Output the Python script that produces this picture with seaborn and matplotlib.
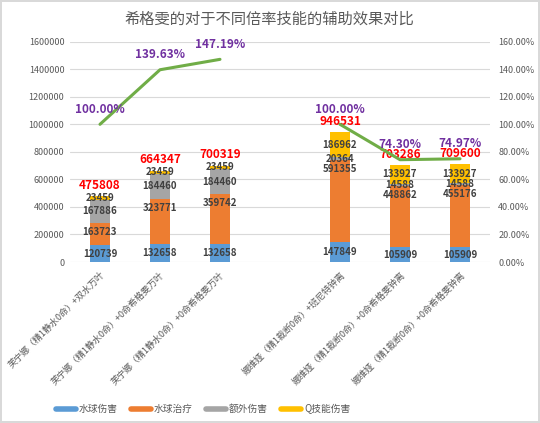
#!/usr/bin/env python3
"""希格雯辅助效果对比 - 堆叠柱状图 + 折线"""

import numpy as np
import pandas as pd
import matplotlib
matplotlib.use("Agg")
import matplotlib.pyplot as plt
from matplotlib.lines import Line2D
import seaborn as sns

# データ
categories = [
    "芙宁娜（精1静水0命）+双水万叶",
    "芙宁娜（精1静水0命）+0命希格雯万叶",
    "芙宁娜（精1静水0命）+0命希格雯万叶",
    "娜维娅（精1裁断0命）+班尼特钟离",
    "娜维娅（精1裁断0命）+0命希格雯钟离",
    "娜维娅（精1裁断0命）+0命希格雯钟离",
]
positions = [0, 1, 2, 4, 5, 6]  # 3 は空白
groups = [0, 0, 0, 1, 1, 1]

water_dmg = [120739, 132658, 132658, 147849, 105909, 105909]
water_heal = [163723, 323771, 359742, 591355, 448862, 455176]
extra_dmg = [167886, 184460, 184460, 20364, 14588, 14588]
q_dmg = [23459, 23459, 23459, 186962, 133927, 133927]
totals = [475808, 664347, 700319, 946531, 703286, 709600]
ratio = [1.0, 1.3963, 1.4719, 1.0, 0.7430, 0.7497]

series_names = ["水球伤害", "水球治疗", "额外伤害", "Q技能伤害"]
colors = ["#5B9BD5", "#ED7D31", "#A5A5A5", "#FFC000"]

TEXT_GRAY = "#595959"
LABEL_GRAY = "#404040"
GRID = "#D9D9D9"

sns.set_theme(style="white")
plt.rcParams["font.family"] = ["Noto Sans CJK SC", "DejaVu Sans"]

fig = plt.figure(figsize=(5.4, 4.23), dpi=100)
ax = fig.add_axes([0.1296, 0.3806, 0.7778, 0.5208])

# 累積値（上から順に描いて重ねる）
layers = np.array([water_dmg, water_heal, extra_dmg, q_dmg], dtype=float)
cum = np.cumsum(layers, axis=0)
for i in range(3, -1, -1):
    df = pd.DataFrame({"pos": positions, "val": cum[i]})
    sns.barplot(data=df, x="pos", y="val", native_scale=True, color=colors[i],
                saturation=1, width=0.32, errorbar=None, ax=ax, zorder=2,
                linewidth=0, edgecolor="none")

ax.set_xlim(-0.5, 6.5)
ax.set_ylim(0, 1600000)
ax.set_yticks(np.arange(0, 1600001, 200000))
ax.set_yticklabels([f"{v:d}" for v in range(0, 1600001, 200000)])
ax.set_xticks(positions)
ax.set_xticklabels(categories, rotation=45, ha="right", rotation_mode="anchor")
ax.set_xlabel("")
ax.set_ylabel("")
ax.tick_params(axis="both", length=0, labelsize=6.5, labelcolor=TEXT_GRAY, pad=4)
ax.tick_params(axis="x", pad=6)
ax.yaxis.grid(True, color=GRID, lw=0.8, zorder=0)
ax.set_axisbelow(True)
for s in ax.spines.values():
    s.set_visible(False)

# データラベル
for j, x in enumerate(positions):
    bottoms = np.concatenate([[0], cum[:, j]])
    for i in range(4):
        lo, hi = bottoms[i], bottoms[i + 1]
        if i == 1:
            ax.annotate(f"{int(layers[i, j])}", (x, hi), xytext=(0, -3),
                        textcoords="offset points", ha="center", va="top",
                        fontsize=7, fontweight="bold", color=LABEL_GRAY, zorder=5)
        else:
            ax.text(x, (lo + hi) / 2, f"{int(layers[i, j])}", ha="center",
                    va="center", fontsize=7, fontweight="bold",
                    color=LABEL_GRAY, zorder=5)
    ax.annotate(f"{totals[j]}", (x, cum[3, j]), xytext=(0, 3),
                textcoords="offset points", ha="center", va="bottom",
                fontsize=8.5, fontweight="bold", color="#FF0000", zorder=5)

# 右軸: 比率の折れ線
ax2 = ax.twinx()
line_df = pd.DataFrame({"pos": positions, "ratio": ratio, "grp": groups})
sns.lineplot(data=line_df, x="pos", y="ratio", units="grp", estimator=None,
             color="#70AD47", lw=2.2, ax=ax2, zorder=4)
ax2.set_ylim(0, 1.6)
ax2.set_yticks(np.arange(0, 1.61, 0.2))
ax2.set_yticklabels([f"{v * 100:.2f}%" for v in np.arange(0, 1.61, 0.2)])
ax2.set_ylabel("")
ax2.tick_params(axis="y", length=0, labelsize=6.5, labelcolor=TEXT_GRAY, pad=6)
for s in ax2.spines.values():
    s.set_visible(False)

for x, r in zip(positions, ratio):
    ax2.annotate(f"{r * 100:.2f}%", (x, r), xytext=(0, 6),
                 textcoords="offset points", ha="center", va="bottom",
                 fontsize=8.5, fontweight="bold", color="#7030A0", zorder=6)

fig.suptitle("希格雯的对于不同倍率技能的辅助效果对比", x=0.498, y=0.975,
             fontsize=11, color=TEXT_GRAY)

handles = [Line2D([0], [0], color=c, lw=4) for c in colors]
fig.legend(handles, series_names, loc="center", bbox_to_anchor=(0.376, 0.033),
           ncol=4, frameon=False, fontsize=7, handlelength=2.1,
           handletextpad=0.3, columnspacing=1.3, labelcolor=TEXT_GRAY)

fig.patch.set_edgecolor(GRID)
fig.patch.set_linewidth(1.5)

fig.savefig("out.png", dpi=100)
plt.close(fig)
